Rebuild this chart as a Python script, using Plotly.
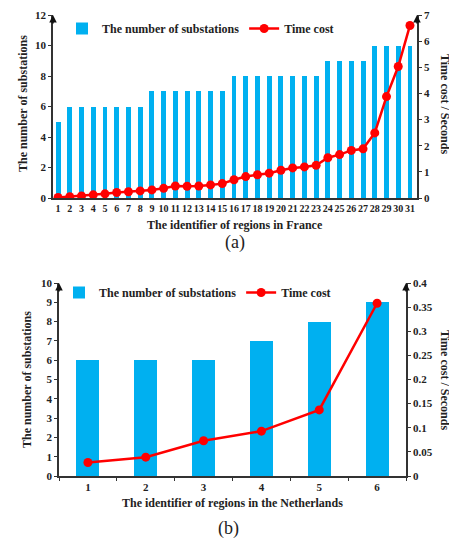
import plotly.graph_objects as go

# Data
regions_fr = list(range(1, 32))
subs_fr = [5, 6, 6, 6, 6, 6, 6, 6, 7, 7, 7, 7, 7, 7, 7, 8, 8, 8, 8, 8, 8, 8, 8, 9, 9, 9, 9, 10, 10, 10, 10]
time_fr = [0.02, 0.05, 0.08, 0.12, 0.16, 0.21, 0.24, 0.27, 0.31, 0.37, 0.46, 0.45, 0.46, 0.50, 0.55,
           0.70, 0.82, 0.89, 0.95, 1.06, 1.15, 1.19, 1.25, 1.54, 1.66, 1.82, 1.88, 2.49, 3.88, 5.03, 6.6]

regions_nl = ["1", "2", "3", "4", "5", "6"]
subs_nl = [6, 6, 6, 7, 8, 9]
time_nl = [0.028, 0.039, 0.073, 0.093, 0.137, 0.358]

# page body has an 8px margin: work in reference coords, shifted by OFF
OFF = 8
W, H = 457 - OFF, 548 - OFF
BLUE = "#00B0F0"
RED = "#FF0000"
AX = "#333333"
FONT = "Liberation Serif"

def px(x):
    return (x - OFF) / W

def py(y):
    return min(1.0, max(0.0, 1 - (y - OFF) / H))

fig = go.Figure()
fig.add_trace(go.Bar(x=regions_fr, y=subs_fr, width=0.42, marker=dict(color=BLUE, line=dict(width=0)),
                     name="The number of substations", xaxis="x", yaxis="y", legend="legend"))
fig.add_trace(go.Scatter(x=regions_fr, y=time_fr, mode="lines+markers", name="Time cost",
                         line=dict(color=RED, width=2.5), marker=dict(color=RED, size=9),
                         xaxis="x", yaxis="y2", legend="legend"))
fig.add_trace(go.Bar(x=regions_nl, y=subs_nl, width=0.4, marker=dict(color=BLUE, line=dict(width=0)),
                     name="The number of substations", xaxis="x2", yaxis="y3", legend="legend2"))
fig.add_trace(go.Scatter(x=regions_nl, y=time_nl, mode="lines+markers", name="Time cost",
                         line=dict(color=RED, width=2.5), marker=dict(color=RED, size=9),
                         xaxis="x2", yaxis="y4", legend="legend2"))

tickf = dict(family=FONT, size=11, color="#222", weight="bold")
axcommon = dict(showline=True, linecolor=AX, linewidth=1.5, showgrid=False, zeroline=False,
                tickfont=tickf, ticklen=3, tickcolor=AX, automargin=False, ticklabeloverflow="allow")

top_dom = [py(198), py(15)]
bot_dom = [py(476), py(283)]

xtop = dict(axcommon)
xtop["tickfont"] = dict(family=FONT, size=10, color="#222", weight="bold")

fig.update_layout(
    width=W, height=H, margin=dict(l=0, r=0, t=0, b=0, autoexpand=False),
    paper_bgcolor="white", plot_bgcolor="white",
    font=dict(family=FONT, size=12, color="#222", weight="bold"),
    bargap=0,
    xaxis=dict(domain=[px(53), px(417)], anchor="y", range=[0.57, 31.6], tickmode="array",
               tickvals=regions_fr, ticks="", tickangle=0, **xtop),
    yaxis=dict(domain=top_dom, anchor="x", range=[0, 12], dtick=2, ticks="outside", **axcommon),
    yaxis2=dict(overlaying="y", side="right", anchor="x", range=[0, 7], dtick=1, ticks="outside", **axcommon),
    xaxis2=dict(domain=[px(59), px(406)], anchor="y3", type="category", tickson="boundaries",
                ticks="outside", range=[-0.5, 5.5], **axcommon),
    yaxis3=dict(domain=bot_dom, anchor="x2", range=[0, 10], dtick=1, ticks="outside", **axcommon),
    yaxis4=dict(overlaying="y3", side="right", anchor="x2", range=[0, 0.4], dtick=0.05, ticks="outside", **axcommon),
    legend=dict(orientation="h", x=px(62), y=py(14), xanchor="left", yanchor="top",
                font=dict(family=FONT, size=12, weight="bold"), bgcolor="rgba(0,0,0,0)",
                itemwidth=30, tracegroupgap=0),
    legend2=dict(orientation="h", x=px(59), y=py(278), xanchor="left", yanchor="top",
                 font=dict(family=FONT, size=12, weight="bold"), bgcolor="rgba(0,0,0,0)",
                 itemwidth=30, tracegroupgap=0),
)

ann = []
def title(text, x, y, angle=0, size=12):
    ann.append(dict(text=text, x=px(x), y=py(y), xref="paper", yref="paper", showarrow=False,
                    textangle=angle, font=dict(family=FONT, size=size, weight="bold", color="#222"),
                    xanchor="center", yanchor="middle"))

title("The number of substations", 23, 104, -90)
title("Time cost / Seconds", 445, 104, 90)
title("The identifier of regions in France", 235, 225)
title("The number of substations", 27, 380, -90)
title("Time cost / Seconds", 445, 380, 90)
title("The identifier of regions in the Netherlands", 232, 503)

for txt, x, y in [("(a)", 235, 242), ("(b)", 228, 528)]:
    ann.append(dict(text=txt, x=px(x), y=py(y), xref="paper", yref="paper", showarrow=False,
                    font=dict(family=FONT, size=18, color="#222", weight="normal"),
                    xanchor="center", yanchor="middle"))

# arrows on y axes
for xr, yr, xv in [("x domain", "y domain", 0), ("x domain", "y domain", 1),
                   ("x2 domain", "y3 domain", 0), ("x2 domain", "y3 domain", 1)]:
    ann.append(dict(x=xv, y=1.0, xref=xr, yref=yr, ax=0, ay=10, axref="pixel", ayref="pixel",
                    showarrow=True, arrowhead=2, arrowsize=1, arrowwidth=1.5, arrowcolor="#111", text=""))

fig.update_layout(annotations=ann)
fig.write_html("out.html")
